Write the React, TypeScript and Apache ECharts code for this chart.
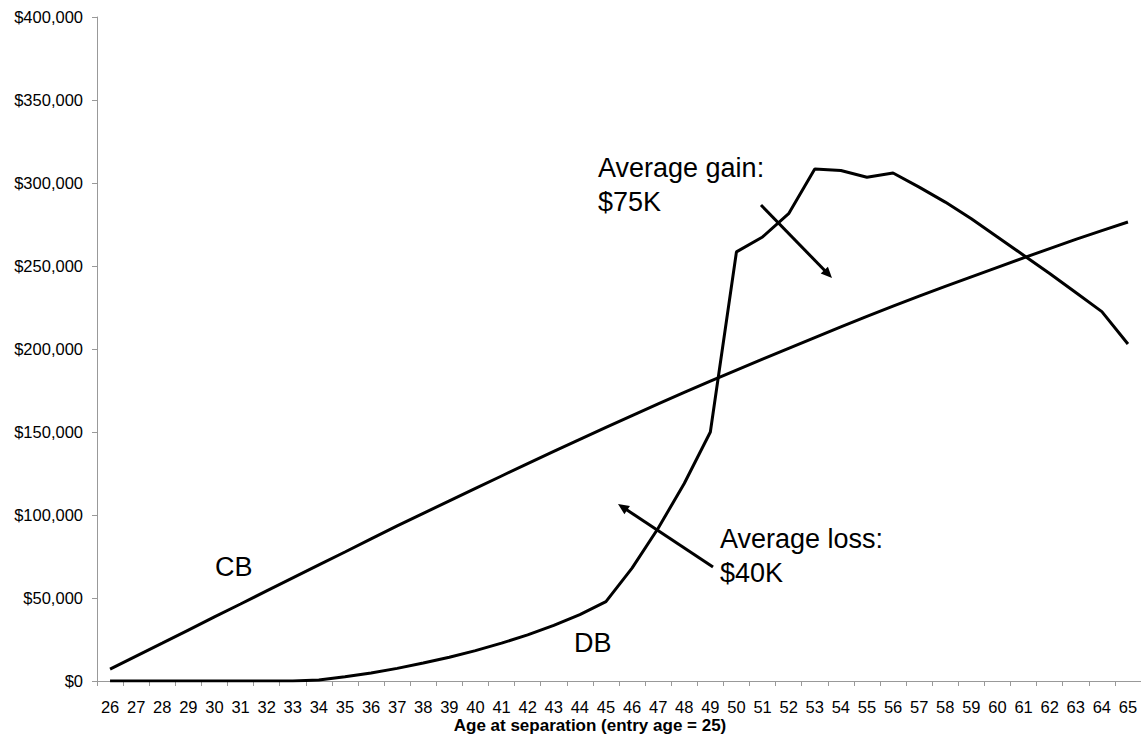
import React, { useEffect, useRef } from "react";
import * as echarts from "echarts";

const ages = [
  "26", "27", "28", "29", "30", "31", "32", "33", "34", "35",
  "36", "37", "38", "39", "40", "41", "42", "43", "44", "45",
  "46", "47", "48", "49", "50", "51", "52", "53", "54", "55",
  "56", "57", "58", "59", "60", "61", "62", "63", "64", "65",
];

const cbValues = [
  7200, 15000, 22800, 30700, 38600, 46400, 54300, 62100, 69900, 77700,
  85600, 93400, 101000, 108500, 116000, 123500, 131000, 138300, 145600, 152800,
  159900, 166900, 173800, 180600, 187300, 193900, 200400, 206900, 213300, 219600,
  225800, 231800, 237700, 243500, 249200, 254900, 260500, 266000, 271300, 276500,
];

const dbValues = [
  0, 0, 0, 0, 0, 0, 0, 0, 600, 2500,
  4800, 7600, 10800, 14300, 18300, 22800, 27800, 33500, 40000, 47800,
  68000, 92000, 119000, 150000, 258500, 267500, 281500, 308500, 307500, 303500,
  306000, 297500, 288500, 278500, 267500, 256500, 245500, 234000, 222500, 203000,
];

const yMin = 0;
const yMax = 400000;
const yStep = 50000;

const xTitle = "Age at separation (entry age = 25)";
const seriesNames = ["CB", "DB"];
const gainLines = ["Average gain:", "$75K"];
const lossLines = ["Average loss:", "$40K"];

const FONT = '"Liberation Sans", Arial, sans-serif';

function arrow(x1: number, y1: number, x2: number, y2: number) {
  const dx = x2 - x1;
  const dy = y2 - y1;
  const len = Math.sqrt(dx * dx + dy * dy);
  const ux = dx / len;
  const uy = dy / len;
  const headLen = 11;
  const halfW = 5;
  const bx = x2 - ux * headLen;
  const by = y2 - uy * headLen;
  const px = -uy;
  const py = ux;
  return [
    {
      type: "line",
      shape: { x1, y1, x2: bx + ux * 2, y2: by + uy * 2 },
      style: { stroke: "#000", lineWidth: 3 },
      silent: true,
    },
    {
      type: "polygon",
      shape: {
        points: [
          [x2, y2],
          [bx + px * halfW, by + py * halfW],
          [bx - px * halfW, by - py * halfW],
        ],
      },
      style: { fill: "#000" },
      silent: true,
    },
  ];
}

function label(text: string, x: number, y: number, size = 27, align = "left", weight = "normal") {
  return {
    type: "text",
    x,
    y,
    silent: true,
    style: {
      text,
      fill: "#000",
      fontSize: size,
      fontFamily: FONT,
      fontWeight: weight,
      align,
      verticalAlign: "middle",
      textAlign: align,
      textVerticalAlign: "middle",
    },
  };
}

export default function App() {
  const ref = useRef<HTMLDivElement>(null);

  useEffect(() => {
    if (!ref.current) return;
    const chart = echarts.init(ref.current, null, { renderer: "svg" });
    chart.setOption({
      animation: false,
      backgroundColor: "#fff",
      grid: { left: 97, right: -3.5, top: 17, bottom: 55, containLabel: false },
      xAxis: {
        type: "category",
        data: ages,
        boundaryGap: true,
        axisLine: { show: true, lineStyle: { color: "#999", width: 1 } },
        axisTick: { show: true, alignWithLabel: false, interval: 0, length: 5, lineStyle: { color: "#999" } },
        axisLabel: {
          interval: 0,
          margin: 17,
          color: "#000",
          fontSize: 16.5,
          fontFamily: FONT,
        },
        splitLine: { show: false },
      },
      yAxis: {
        type: "value",
        min: yMin,
        max: yMax,
        interval: yStep,
        axisLine: { show: true, lineStyle: { color: "#999", width: 1 } },
        axisTick: { show: true, length: 5, lineStyle: { color: "#999" } },
        axisLabel: {
          margin: 14,
          color: "#000",
          fontSize: 16.5,
          fontFamily: FONT,
          formatter: (v: number) => "$" + v.toLocaleString("en-US"),
        },
        splitLine: { show: false },
      },
      series: [
        {
          name: seriesNames[0],
          type: "line",
          data: cbValues,
          showSymbol: false,
          symbol: "none",
          lineStyle: { color: "#000", width: 3 },
          itemStyle: { color: "#000" },
        },
        {
          name: seriesNames[1],
          type: "line",
          data: dbValues,
          showSymbol: false,
          symbol: "none",
          lineStyle: { color: "#000", width: 3 },
          itemStyle: { color: "#000" },
        },
      ],
      graphic: [
        label(seriesNames[0], 215, 567),
        label(seriesNames[1], 574, 643),
        label(gainLines[0], 598, 167.5),
        label(gainLines[1], 598, 201.5),
        label(lossLines[0], 720, 538.5),
        label(lossLines[1], 720, 572.5),
        label(xTitle, 590, 725, 17, "center", "bold"),
        ...arrow(761, 205, 832, 278),
        ...arrow(713, 567, 618, 504),
      ],
    });
    return () => chart.dispose();
  }, []);

  return (
    <div
      ref={ref}
      style={{ position: "fixed", left: 0, top: 0, width: 1141, height: 736 }}
    />
  );
}
